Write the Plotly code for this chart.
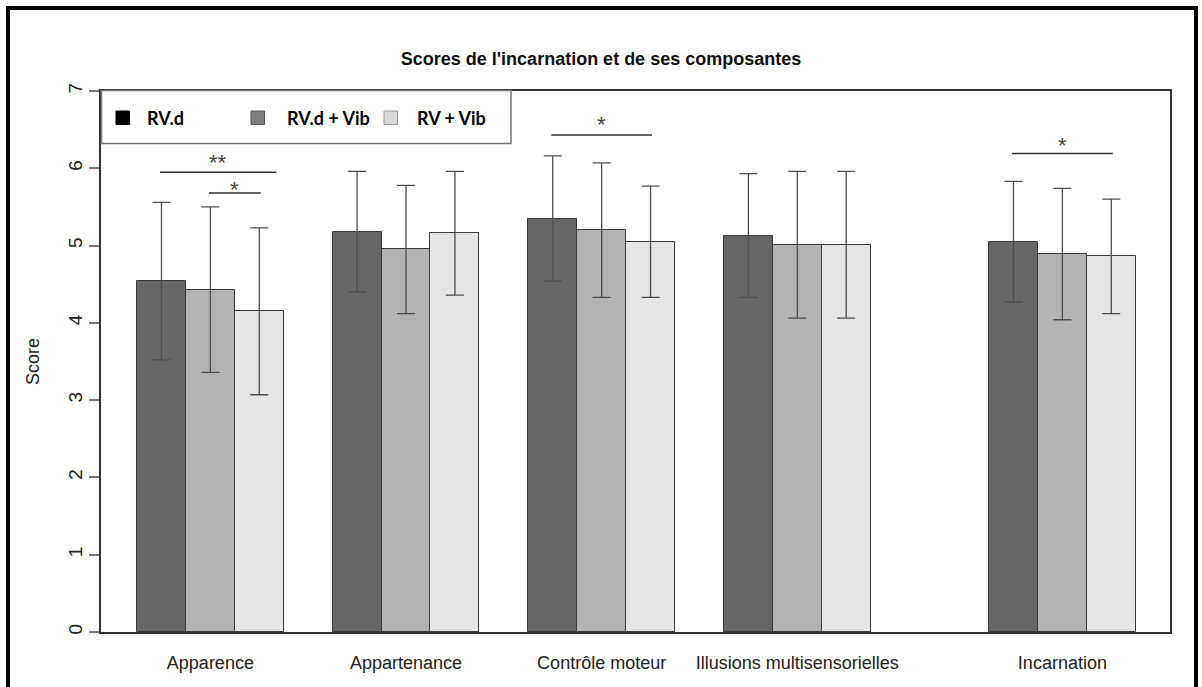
import plotly.graph_objects as go

# ---- data -------------------------------------------------------------
categories = ["Apparence", "Appartenance", "Contrôle moteur",
              "Illusions multisensorielles", "Incarnation"]
series_names = ["RV.d", "RV.d + Vib", "RV + Vib"]

rvd_mean = [4.54, 5.18, 5.35, 5.13, 5.05]
rvd_sd = [1.02, 0.78, 0.81, 0.80, 0.78]

rvd_vib_mean = [4.43, 4.95, 5.20, 5.01, 4.89]
rvd_vib_sd = [1.07, 0.83, 0.87, 0.95, 0.85]

rv_vib_mean = [4.15, 5.16, 5.05, 5.01, 4.86]
rv_vib_sd = [1.08, 0.80, 0.72, 0.95, 0.74]

y_ticks = [0, 1, 2, 3, 4, 5, 6, 7]

# significance marks: label, category index, first/last series, bar height, label height
sig_labels = ["**", "*", "*", "*"]
sig_groups = [0, 0, 2, 4]
sig_from = [0, 1, 0, 0]
sig_to = [2, 2, 2, 2]
sig_heights = [5.95, 5.68, 6.43, 6.19]
sig_text_heights = [6.12, 5.76, 6.61, 6.33]

# ---- layout helpers ---------------------------------------------------
W, H = 1202, 687
L, R, T, B = 101, 1170, 91, 632          # plot box in pixels
group_start = [1.0, 5.0, 9.0, 13.0, 18.42]  # left edge of each group (bar units)
x_range = [0.264, 22.12]

bar_fill = ["#666666", "#b3b3b3", "#e5e5e5"]
means = [rvd_mean, rvd_vib_mean, rv_vib_mean]
sds = [rvd_sd, rvd_vib_sd, rv_vib_sd]
FONT = "Liberation Sans, Arial, sans-serif"


def px_x(px):
    return (px - L) / (R - L)


def px_y(py):
    return (B - py) / (B - T)


fig = go.Figure()

for k in range(3):
    xs = [g + 0.5 + k for g in group_start]
    fig.add_trace(go.Bar(
        x=xs, y=means[k], width=1.0, name=series_names[k],
        marker=dict(color=bar_fill[k], line=dict(color="#3a3a3a", width=1)),
        error_y=dict(type="data", array=sds[k], color="#4d4d4d",
                     thickness=1.3, width=9),
        showlegend=False,
    ))

group_centers = [g + 1.5 for g in group_start]

shapes = []
annotations = []

# significance brackets
for lab, gi, a, b, h, th in zip(sig_labels, sig_groups, sig_from, sig_to,
                                sig_heights, sig_text_heights):
    x0 = group_start[gi] + 0.5 + a
    x1 = group_start[gi] + 0.5 + b
    if lab == "**":
        x1 += 0.32
    shapes.append(dict(type="line", xref="x", yref="y", x0=x0 - 0.03, x1=x1 + 0.03,
                       y0=h, y1=h, line=dict(color="#333333", width=1.5)))
    annotations.append(dict(xref="x", yref="y", x=(x0 + x1) / 2, y=th,
                            text=lab, showarrow=False, yanchor="middle",
                            yshift=-3,
                            font=dict(family=FONT, size=22, color="#444444")))

# legend box
shapes.append(dict(type="rect", xref="paper", yref="paper",
                   x0=px_x(101.5), x1=px_x(511), y0=px_y(143.5), y1=px_y(90.5),
                   fillcolor="white", line=dict(color="#777777", width=1.5),
                   layer="above"))
leg_sq_x = [116, 251, 384]
leg_sq_fill = ["#000000", "#808080", "#d9d9d9"]
leg_sq_line = ["#000000", "#555555", "#999999"]
leg_txt_x = [145, 285, 415]
for k in range(3):
    shapes.append(dict(type="rect", xref="paper", yref="paper",
                       x0=px_x(leg_sq_x[k]), x1=px_x(leg_sq_x[k] + 13.5),
                       y0=px_y(124.5), y1=px_y(111), layer="above",
                       fillcolor=leg_sq_fill[k],
                       line=dict(color=leg_sq_line[k], width=1)))
    annotations.append(dict(xref="paper", yref="paper",
                            x=px_x(leg_txt_x[k]), y=px_y(118),
                            xanchor="left", yanchor="middle", showarrow=False,
                            text="<b>%s</b>" % series_names[k],
                            font=dict(family="Lato, Carlito, sans-serif",
                                      size=18, color="#000000")))

# outer frame
shapes.append(dict(type="rect", xref="paper", yref="paper",
                   x0=px_x(8), x1=px_x(1196), y0=px_y(700), y1=px_y(8),
                   line=dict(color="#000000", width=4), layer="above"))

fig.update_layout(
    width=W, height=H,
    margin=dict(l=L, r=W - R, t=T, b=H - B),
    paper_bgcolor="white", plot_bgcolor="white",
    bargap=0, barmode="overlay",
    title=dict(text="<b>Scores de l'incarnation et de ses composantes</b>",
               x=601 / W, xref="container", xanchor="center",
               y=1 - 58.7 / H, yref="container", yanchor="middle",
               font=dict(family=FONT, size=18, color="#111111")),
    xaxis=dict(range=x_range, tickvals=group_centers, ticktext=categories,
               showgrid=False, zeroline=False, ticks="outside", ticklen=14,
               tickcolor="rgba(0,0,0,0)",
               tickfont=dict(family=FONT, size=18, color="#222222"),
               showline=True, mirror=True, linecolor="#333333", linewidth=1.5),
    yaxis=dict(range=[0, 7], tickvals=y_ticks, showgrid=False, zeroline=False,
               ticks="outside", ticklen=10, tickwidth=1.5, tickcolor="#777777",
               tickangle=-90,
               tickfont=dict(family=FONT, size=19, color="#222222"),
               title=dict(text="Score", standoff=20,
                          font=dict(family=FONT, size=18, color="#222222")),
               showline=True, mirror=True, linecolor="#333333", linewidth=1.5),
    shapes=shapes,
    annotations=annotations,
)

fig.write_html("out.html")
